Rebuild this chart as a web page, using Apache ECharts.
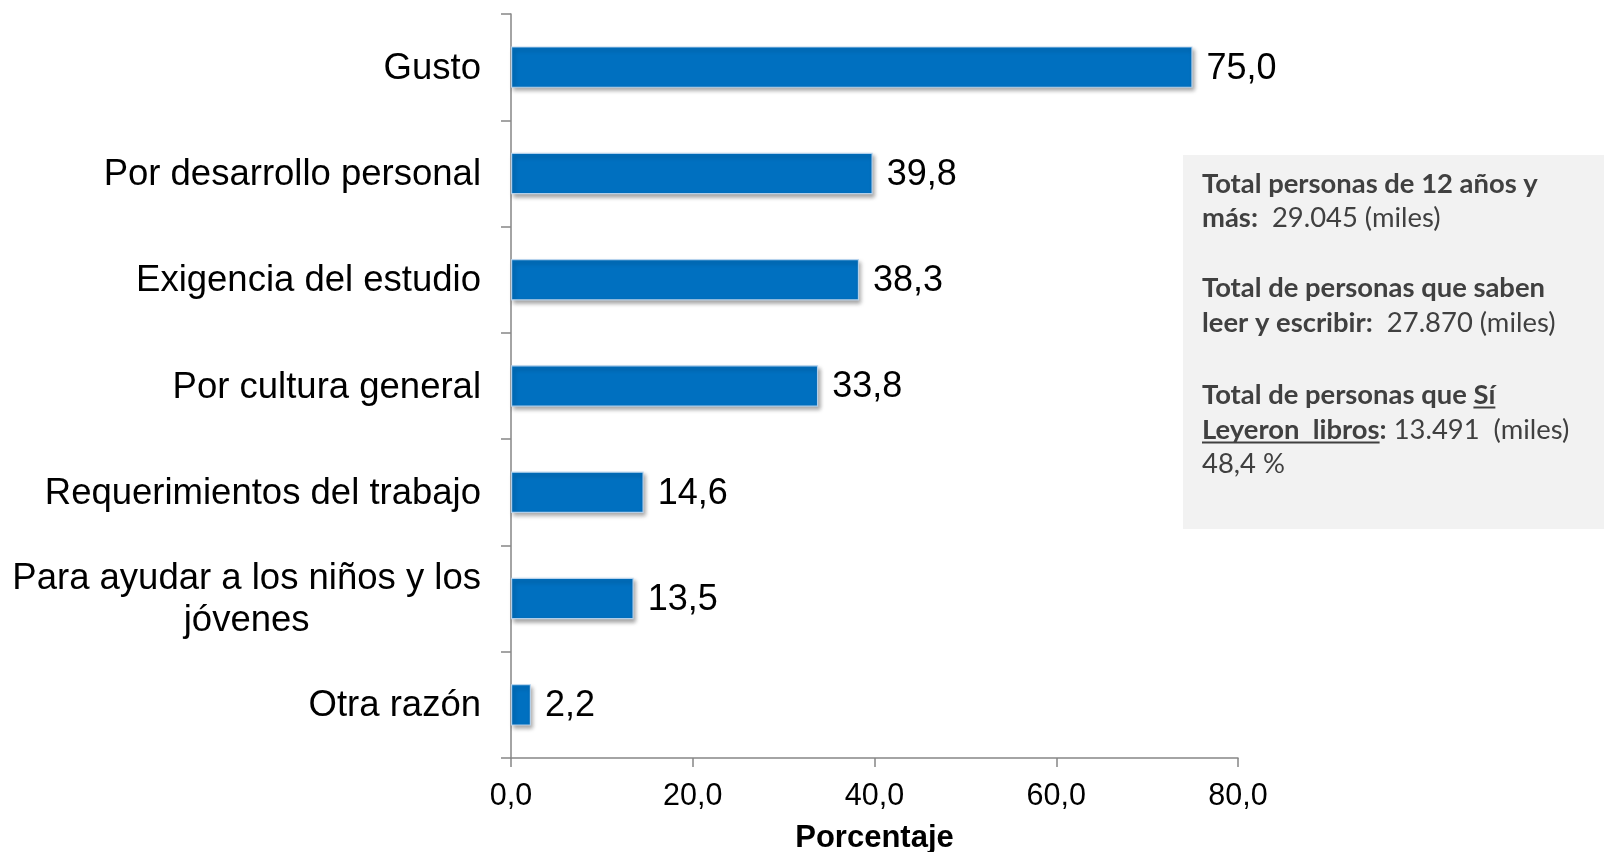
<!DOCTYPE html>
<html><head><meta charset="utf-8">
<script src="https://cdn.jsdelivr.net/npm/echarts@6/dist/echarts.min.js"></script>
<style>html,body{margin:0;padding:0;background:#fff}#c{width:1604px;height:852px}</style>
</head><body><div id="c"></div>
<script>
// ---- data ----
const categories = ['Gusto', 'Por desarrollo personal', 'Exigencia del estudio', 'Por cultura general', 'Requerimientos del trabajo', 'Para ayudar a los niños y los\njóvenes', 'Otra razón'];
const values = [75.0, 39.8, 38.3, 33.8, 14.6, 13.5, 2.2];
const xMin = 0, xMax = 80, xInterval = 20;
const axisName = 'Porcentaje';
const boxLines = [
  [['Total personas de 12 años y', 'b']],
  [['más:', 'b'], ['  29.045 (miles)', 'n']],
  [['Total de personas que saben', 'b']],
  [['leer y escribir:', 'b'], ['  27.870 (miles)', 'n']],
  [['Total de personas que ', 'b'], ['Sí', 'bu']],
  [['Leyeron  libros', 'bu'], [':', 'b'], [' 13.491  (miles)', 'n']],
  [['48,4 %', 'n']]
];

// ---- layout ----
const lineY = [184, 218, 288, 323, 395, 430, 464];
const boxX = 1183, boxY = 155, boxW = 421, boxH = 374, textX = 1202;
const boxFamily = 'Lato, "Open Sans", sans-serif';
const cv = document.createElement('canvas').getContext('2d');
function measure(t, bold, size) { cv.font = (bold ? 'bold ' : '') + size + 'px ' + boxFamily; return cv.measureText(t).width; }
const boxSize = Math.round(24 * 336 / measure('Total personas de 12 años y', true, 24) * 10) / 10;
const fmt = v => v.toFixed(1).replace('.', ',');

const graphics = [{ type: 'rect', shape: { x: boxX, y: boxY, width: boxW, height: boxH }, style: { fill: '#F2F2F2' }, z: 1 }];
boxLines.forEach((segs, i) => {
  let x = 0;
  const rich = segs.map(s => '{' + (s[1] === 'n' ? 'n' : 'b') + '|' + s[0] + '}').join('');
  graphics.push({
    type: 'text', x: textX, y: lineY[i], z: 2,
    style: {
      text: rich, verticalAlign: 'middle', align: 'left',
      rich: {
        b: { fontFamily: boxFamily, fontWeight: 'bold', fontSize: boxSize, fill: '#404040' },
        n: { fontFamily: boxFamily, fontWeight: 'normal', fontSize: boxSize, fill: '#404040' }
      }
    }
  });
  segs.forEach(s => {
    const w = measure(s[0], s[1] !== 'n', boxSize);
    if (s[1] === 'bu') {
      graphics.push({ type: 'line', z: 2, shape: { x1: textX + x, y1: lineY[i] + 12.5, x2: textX + x + w, y2: lineY[i] + 12.5 }, style: { stroke: '#404040', lineWidth: 2 } });
    }
    x += w;
  });
});

const chart = echarts.init(document.getElementById('c'), null, { renderer: 'canvas' });
const axisColor = '#868686';
const fam = '"Liberation Sans", Arial, sans-serif';
chart.setOption({
  animation: false,
  grid: { left: 511, right: 366, top: 14, bottom: 94, containLabel: false, outerBoundsMode: 'none' },
  xAxis: {
    type: 'value', min: xMin, max: xMax, interval: xInterval,
    name: axisName, nameLocation: 'middle', nameGap: 65,
    nameTextStyle: { fontFamily: fam, fontWeight: 'bold', fontSize: 31, color: '#000' },
    axisLine: { show: true, lineStyle: { color: axisColor, width: 1.5 } },
    axisTick: { show: true, length: 9, lineStyle: { color: axisColor, width: 1.5 } },
    splitLine: { show: false },
    axisLabel: { margin: 23, fontFamily: fam, fontSize: 30.5, color: '#000', formatter: v => fmt(v) }
  },
  yAxis: {
    type: 'category', data: categories, inverse: true,
    axisLine: { show: true, lineStyle: { color: axisColor, width: 1.5 } },
    axisTick: { show: true, length: 10, lineStyle: { color: axisColor, width: 1.5 } },
    axisLabel: {
      margin: 30, fontFamily: fam, fontSize: 36.5, color: '#000',
      formatter: v => v.split('\n').map(l => '{c|' + l + '}').join('\n'),
      rich: { c: { fontFamily: fam, fontSize: 36.5, color: '#000', align: 'center', lineHeight: 42, padding: [3, 0, 0, 0] } }
    }
  },
  series: [{
    type: 'bar', data: values, barCategoryGap: '61%',
    itemStyle: {
      color: '#0070C0', borderColor: 'rgba(190,215,240,0.9)', borderWidth: 1.2,
      shadowColor: 'rgba(0,0,0,0.35)', shadowBlur: 4, shadowOffsetX: 2, shadowOffsetY: 3
    },
    label: { show: true, position: 'right', distance: 14, offset: [0, 1.5], fontFamily: fam, fontSize: 36, color: '#000', formatter: p => fmt(p.value) }
  }],
  graphic: graphics
});
</script></body></html>
